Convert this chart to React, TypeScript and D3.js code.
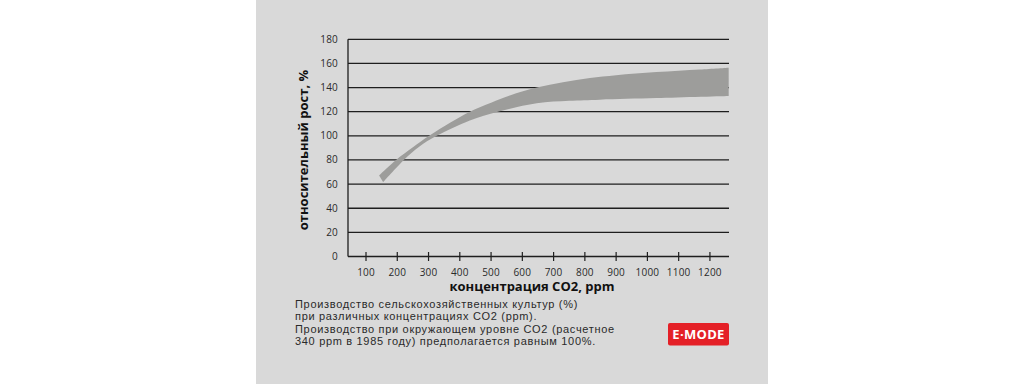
import React from "react";
import * as d3 from "d3";

const W = 1024;
const H = 384;

const yTicks = [0, 20, 40, 60, 80, 100, 120, 140, 160, 180];
const xTicks = [100, 200, 300, 400, 500, 600, 700, 800, 900, 1000, 1100, 1200];

// upper boundary of the yield band (ppm, %)
const upperPpm = [142, 196, 250, 302, 370, 432, 500, 560, 646, 730, 816, 900, 1029, 1168, 1260];
const upperVal = [67.2, 80, 90.5, 100, 111, 120, 127.5, 133.5, 140, 144.5, 148, 150.3, 152.8, 155, 156.5];
// lower boundary of the yield band (ppm, %)
const lowerPpm = [155, 221, 270, 326, 432, 522, 646, 750, 848, 1029, 1260];
const lowerVal = [61.6, 80, 91, 100, 112.8, 120, 127, 129, 130, 131.3, 133];

const descLines = [
  "Производство сельскохозяйственных культур (%)",
  "при различных концентрациях CO2 (ppm).",
  "Производство при окружающем уровне CO2 (расчетное",
  "340 ppm в 1985 году) предполагается равным 100%.",
];

const FONT = "'Open Sans', 'DejaVu Sans', sans-serif";
const DESC_FONT = "'Liberation Sans', Arial, sans-serif";

export default function App() {
  const x = d3.scaleLinear().domain([42.4, 1261]).range([348, 729]);
  const y = d3.scaleLinear().domain([0, 180]).range([256.5, 39.3]);

  const upper = upperPpm.map((p, i) => [x(p), y(upperVal[i])] as [number, number]);
  const lower = lowerPpm.map((p, i) => [x(p), y(lowerVal[i])] as [number, number]).reverse();
  const lineGen = d3.line().curve(d3.curveCatmullRom.alpha(0.5));
  const upPath = lineGen(upper) || "";
  const lowPath = (lineGen(lower) || "").replace(/^M/, "L");
  const bandPath = upPath + lowPath + "Z";

  const x0 = x.range()[0];
  const x1 = x.range()[1];

  return (
    <svg width={W} height={H} style={{ position: "absolute", left: 0, top: 0 }}>
      <rect x={0} y={0} width={W} height={H} fill="#ffffff" />
      <rect x={256} y={0} width={512} height={H} fill="#d9d9d9" />

      {/* grid lines */}
      {yTicks.filter((t) => t > 0).map((t) => (
        <line key={t} x1={x0} x2={x1} y1={y(t)} y2={y(t)} stroke="#1e1e1e" strokeWidth={1.3} />
      ))}

      {/* band */}
      <path d={bandPath} fill="#9d9d9b" />

      {/* axes */}
      <line x1={x0} x2={x0} y1={y(180)} y2={y(0)} stroke="#1e1e1e" strokeWidth={1.3} />
      <line x1={x0} x2={x1} y1={y(0)} y2={y(0)} stroke="#1e1e1e" strokeWidth={1.3} />
      {xTicks.map((t) => (
        <line key={t} x1={x(t)} x2={x(t)} y1={y(0) - 4.5} y2={y(0) + 4.5} stroke="#1e1e1e" strokeWidth={1.2} />
      ))}

      {/* y tick labels */}
      {yTicks.map((t) => (
        <text key={t} x={338} y={y(t)} dy="0.35em" textAnchor="end" fontFamily={FONT} fontSize={10} letterSpacing={0.2} fill="#2a2a2a">
          {t}
        </text>
      ))}
      {/* x tick labels */}
      {xTicks.map((t) => (
        <text key={t} x={x(t)} y={272} dy="0.35em" textAnchor="middle" fontFamily={FONT} fontSize={10} letterSpacing={0.2} fill="#2a2a2a">
          {t}
        </text>
      ))}

      {/* axis titles */}
      <text x={532} y={286} dy="0.35em" textAnchor="middle" fontFamily={FONT} fontWeight="bold" fontSize={13} fill="#111">
        концентрация CO2, ppm
      </text>
      <text
        transform="translate(303,150) rotate(-90)"
        dy="0.35em"
        textAnchor="middle"
        fontFamily={FONT}
        fontWeight="bold"
        fontSize={13}
        fill="#111"
      >
        относительный рост, %
      </text>

      {/* description */}
      {descLines.map((l, i) => (
        <text key={i} x={295} y={304 + i * 12.4} dy="0.35em" fontFamily={DESC_FONT} fontSize={11} letterSpacing={0.68} fill="#2a2a2a">
          {l}
        </text>
      ))}

      {/* badge */}
      <rect x={668} y={323} width={61} height={22.5} rx={2} fill="#e42027" />
      <text x={698.5} y={334.5} dy="0.36em" textAnchor="middle" fontFamily={FONT} fontWeight="bold" fontSize={13} letterSpacing={0.3} fill="#ffffff">
        E·MODE
      </text>
    </svg>
  );
}
